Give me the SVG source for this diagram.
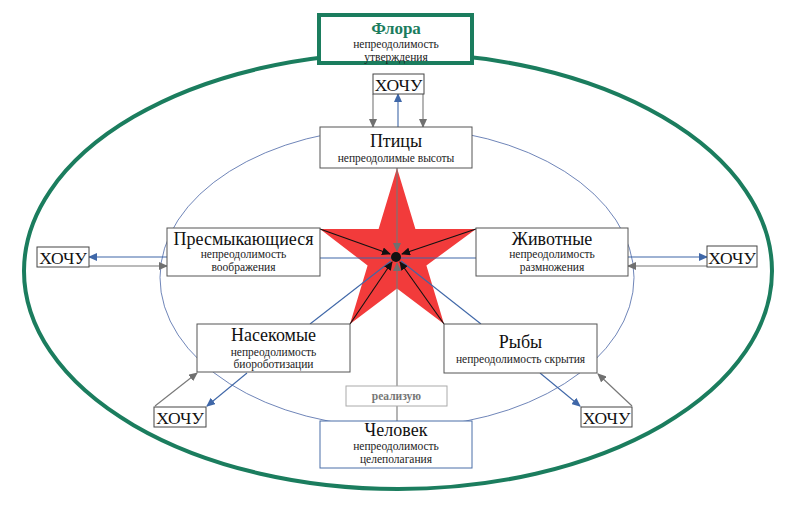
<svg xmlns="http://www.w3.org/2000/svg" width="800" height="506" viewBox="0 0 800 506">
<defs>
<style>
.box{fill:#fff;stroke:#555;stroke-width:1}
.hbox{fill:#fff;stroke:#444;stroke-width:1}
.t{font-family:"Liberation Serif","Times New Roman",serif;font-size:18px;fill:#111;text-anchor:middle}
.s{font-family:"Liberation Serif","Times New Roman",serif;font-size:11.5px;fill:#222;text-anchor:middle}
.h{font-family:"Liberation Serif","Times New Roman",serif;font-size:17.5px;fill:#111;text-anchor:middle}
.blue{stroke:#3f67a8;stroke-width:1.1;fill:none}
.gray{stroke:#777;stroke-width:1.1;fill:none}
.blk{stroke:#111;stroke-width:1.1;fill:none}
</style>
<marker id="ab" markerWidth="9" markerHeight="8" refX="8" refY="4" orient="auto" markerUnits="userSpaceOnUse"><path d="M0,0 L9,4 L0,8 Z" fill="#3f67a8"/></marker>
<marker id="ag" markerWidth="9" markerHeight="8" refX="8" refY="4" orient="auto" markerUnits="userSpaceOnUse"><path d="M0,0 L9,4 L0,8 Z" fill="#707070"/></marker>
<marker id="ak" markerWidth="9" markerHeight="8" refX="8" refY="4" orient="auto" markerUnits="userSpaceOnUse"><path d="M0,0 L9,4 L0,8 Z" fill="#111"/></marker>
</defs>
<rect width="800" height="506" fill="#fff"/>
<ellipse cx="398" cy="271" rx="374" ry="218" fill="none" stroke="#1b7d5e" stroke-width="4"/>
<ellipse cx="397" cy="277.5" rx="237" ry="150" fill="none" stroke="#4a66a6" stroke-width="0.8"/>
<polygon id="star" points="397,168 415.4,229 476,229 426.4,265.5 444,324 397,288.4 350,324 367.6,265.5 320,229 378.6,229" fill="#f23b3b"/>
<g id="connectors">
<line class="blue" x1="320" y1="258" x2="476" y2="258"/>
<line class="gray" x1="397" y1="168" x2="397" y2="251" marker-end="url(#ag)" stroke="#6a5a8a"/>
<line class="gray" x1="397" y1="386" x2="397" y2="263" marker-end="url(#ag)"/>
<line class="blue" x1="310" y1="324" x2="391" y2="261"/>
<line class="blue" x1="481" y1="324" x2="401" y2="261"/>
<line class="blk" x1="320" y1="229" x2="390" y2="254" marker-end="url(#ak)"/>
<line class="blk" x1="476" y1="229" x2="402" y2="254" marker-end="url(#ak)"/>
<line class="blk" x1="350" y1="324" x2="392" y2="262" marker-end="url(#ak)"/>
<line class="blk" x1="444" y1="324" x2="400" y2="262" marker-end="url(#ak)"/>
<circle cx="396" cy="257" r="5" fill="#111"/>
<line class="gray" x1="373" y1="94" x2="373" y2="127" marker-end="url(#ag)"/>
<line class="gray" x1="423" y1="94" x2="423" y2="127" marker-end="url(#ag)"/>
<line class="blue" x1="398" y1="127" x2="398" y2="94" marker-end="url(#ab)"/>
<line class="blue" x1="167" y1="257" x2="89" y2="257" marker-end="url(#ab)"/>
<line class="gray" x1="89" y1="266" x2="167" y2="266" marker-end="url(#ag)"/>
<line class="blue" x1="628" y1="257" x2="707" y2="257" marker-end="url(#ab)"/>
<line class="gray" x1="707" y1="266" x2="628" y2="266" marker-end="url(#ag)"/>
<line class="gray" x1="155" y1="406" x2="197" y2="373" marker-end="url(#ag)"/>
<line class="blue" x1="247" y1="373" x2="207" y2="406" marker-end="url(#ab)"/>
<line class="blue" x1="540" y1="373" x2="580" y2="406" marker-end="url(#ab)"/>
<line class="gray" x1="632" y1="406" x2="598" y2="374" marker-end="url(#ag)"/>
<line class="gray" x1="397" y1="406" x2="397" y2="421"/>
</g>
<g id="flora">
<rect x="319" y="15" width="153" height="48" fill="#fff" stroke="#1b7d5e" stroke-width="4"/>
<text class="t" x="396" y="34" style="font-weight:bold;fill:#1b7d5e;font-size:17px">Флора</text>
<text class="s" x="396" y="48">непреодолимость</text>
<text class="s" x="396" y="61">утверждения</text>
</g>
<g id="hochu-top"><rect class="hbox" x="373" y="74" width="51" height="20"/><text class="h" x="398.5" y="91">ХОЧУ</text></g>
<g id="birds">
<rect class="box" x="320" y="127" width="152" height="41"/>
<text class="t" x="396" y="147">Птицы</text>
<text class="s" x="396" y="162">непреодолимые высоты</text>
</g>
<g id="reptiles">
<rect class="box" x="167" y="228" width="153" height="48"/>
<text class="t" x="243.5" y="245">Пресмыкающиеся</text>
<text class="s" x="243.5" y="258">непреодолимость</text>
<text class="s" x="243.5" y="271">воображения</text>
</g>
<g id="hochu-left"><rect class="hbox" x="37" y="247" width="52" height="20"/><text class="h" x="63" y="264">ХОЧУ</text></g>
<g id="animals">
<rect class="box" x="476" y="228" width="152" height="48"/>
<text class="t" x="552" y="245">Животные</text>
<text class="s" x="552" y="258">непреодолимость</text>
<text class="s" x="552" y="271">размножения</text>
</g>
<g id="hochu-right"><rect class="hbox" x="707" y="246" width="50" height="21"/><text class="h" x="732" y="264">ХОЧУ</text></g>
<g id="insects">
<rect class="box" x="197" y="324" width="153" height="48"/>
<text class="t" x="273.5" y="341">Насекомые</text>
<text class="s" x="273.5" y="356">непреодолимость</text>
<text class="s" x="273.5" y="368">биороботизации</text>
</g>
<g id="hochu-bl"><rect class="hbox" x="154" y="407" width="52" height="20"/><text class="h" x="180" y="424">ХОЧУ</text></g>
<g id="fish">
<rect class="box" x="444" y="324" width="153" height="49"/>
<text class="t" x="520.5" y="348">Рыбы</text>
<text class="s" x="520.5" y="363">непреодолимость скрытия</text>
</g>
<g id="hochu-br"><rect class="hbox" x="581" y="407" width="51" height="20"/><text class="h" x="606.5" y="424">ХОЧУ</text></g>
<g id="realizuyu">
<rect x="346" y="386" width="101" height="20" fill="#fff" stroke="#aaa" stroke-width="1"/>
<text class="s" x="396.5" y="400" style="font-weight:bold;fill:#777">реализую</text>
</g>
<g id="human">
<rect x="320" y="421" width="152" height="47" fill="#fff" stroke="#4a6ea8" stroke-width="1"/>
<text class="t" x="396" y="436">Человек</text>
<text class="s" x="396" y="450">непреодолимость</text>
<text class="s" x="396" y="463">целеполагания</text>
</g>
</svg>
